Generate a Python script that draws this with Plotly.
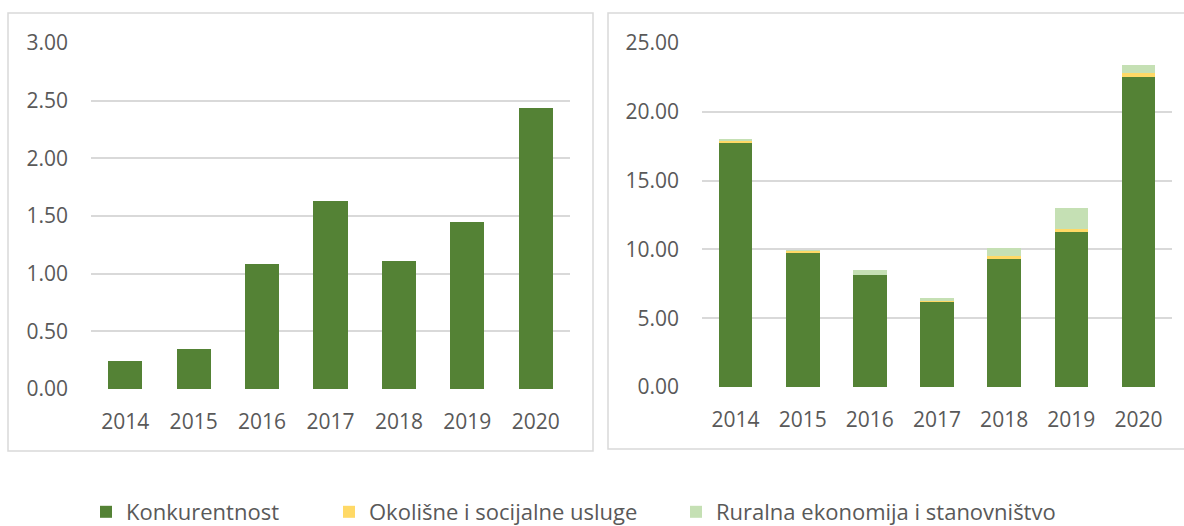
import plotly.graph_objects as go

W, H = 1184, 526

years = ["2014", "2015", "2016", "2017", "2018", "2019", "2020"]
left_konkurentnost = [0.24, 0.35, 1.08, 1.63, 1.11, 1.45, 2.44]
right_konkurentnost = [17.76, 9.81, 8.14, 6.20, 9.30, 11.29, 22.53]
right_okolisne = [0.12, 0.08, 0.02, 0.05, 0.24, 0.17, 0.27]
right_ruralna = [0.10, 0.05, 0.37, 0.19, 0.56, 1.57, 0.60]

names = ["Konkurentnost", "Okolišne i socijalne usluge", "Ruralna ekonomija i stanovništvo"]
colors = ["#548235", "#FFD966", "#C5E0B4"]

TXT = "#595959"
GRID = "#D9D9D9"
FONT = "Open Sans"


def px(x):
    return x / W


def py(y):
    return 1 - y / H


fig = go.Figure()

fig.add_trace(go.Bar(x=years, y=left_konkurentnost, name=names[0], marker_color=colors[0],
                     marker_line_width=0, xaxis="x", yaxis="y", showlegend=False))

for vals, nm, col, lg in zip([right_konkurentnost, right_okolisne, right_ruralna], names, colors,
                             ["legend", "legend2", "legend3"]):
    fig.add_trace(go.Bar(x=years, y=vals, name=nm, marker_color=col, marker_line_width=0,
                         xaxis="x2", yaxis="y2", legend=lg))

axis_common = dict(showline=False, zeroline=False, ticks="", tickfont=dict(family=FONT, size=21, color=TXT),
                   automargin=False, fixedrange=True)

fig.update_layout(
    template="none",
    width=W, height=H,
    margin=dict(l=0, r=0, t=0, b=0, autoexpand=False),
    paper_bgcolor="white", plot_bgcolor="white",
    barmode="stack", bargap=0.5,
    font=dict(family=FONT, color=TXT),
    xaxis=dict(domain=[px(91), px(570)], anchor="y", type="category", showgrid=False,
               ticklabelstandoff=18, **axis_common),
    yaxis=dict(domain=[py(389), py(43)], anchor="x", range=[0, 3], dtick=0.5, tickformat=".2f",
               showgrid=True, gridcolor=GRID, gridwidth=2, ticklabelstandoff=22, **axis_common),
    xaxis2=dict(domain=[px(702), px(1172)], anchor="y2", type="category", showgrid=False,
                ticklabelstandoff=18, **axis_common),
    yaxis2=dict(domain=[py(387), py(43)], anchor="x2", range=[0, 25], dtick=5, tickformat=".2f",
                showgrid=True, gridcolor=GRID, gridwidth=2, ticklabelstandoff=22, **axis_common),
    shapes=[
        dict(type="rect", xref="paper", yref="paper", x0=px(8), x1=px(593), y0=py(451), y1=py(13),
             line=dict(color=GRID, width=1.5), fillcolor="rgba(0,0,0,0)", layer="below"),
        dict(type="rect", xref="paper", yref="paper", x0=px(608), x1=px(1200), y0=py(449), y1=py(13),
             line=dict(color=GRID, width=1.5), fillcolor="rgba(0,0,0,0)", layer="below"),
    ],
)

leg_common = dict(orientation="h", yanchor="bottom", y=py(533), xanchor="left",
                  bgcolor="rgba(0,0,0,0)", borderwidth=0,
                  font=dict(family=FONT, size=22, color=TXT))
fig.update_layout(
    legend=dict(x=px(86), **leg_common),
    legend2=dict(x=px(329), **leg_common),
    legend3=dict(x=px(676), **leg_common),
)

fig.write_html("out.html", config={"displayModeBar": False},
               post_script="document.body.style.margin='0';document.body.style.padding='0';")
